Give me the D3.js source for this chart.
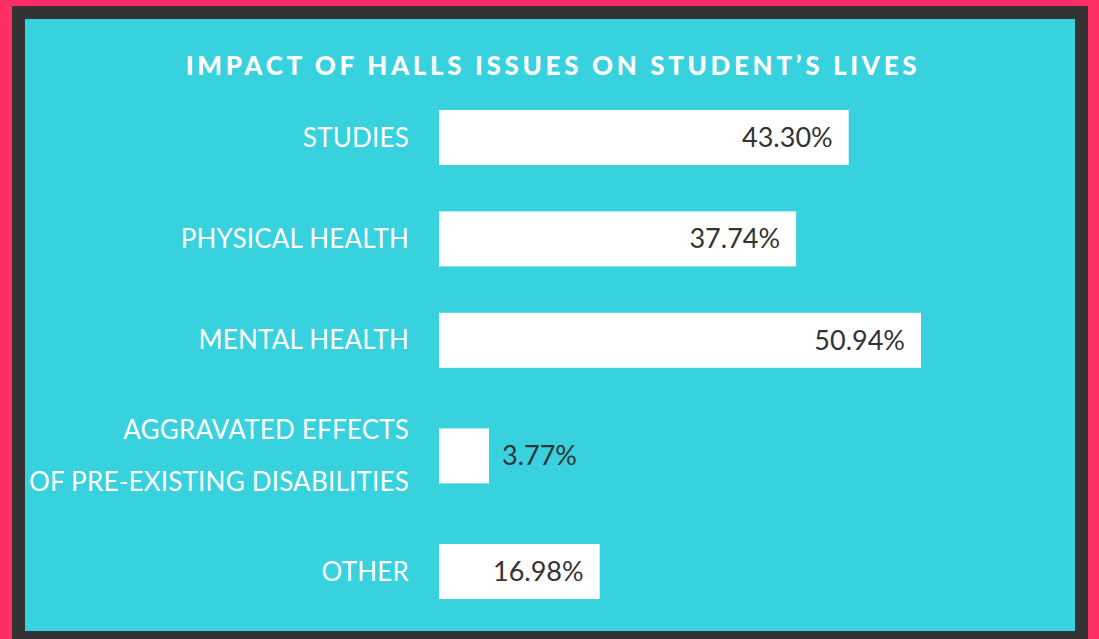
<!DOCTYPE html>
<html>
<head>
<meta charset="utf-8">
<script src="https://cdn.jsdelivr.net/npm/d3@7"></script>
<style>
  html, body { margin: 0; padding: 0; background: #ff2f66; }
  svg { display: block; }
</style>
</head>
<body>
<div id="chart"></div>
<script>
// data
var title = "IMPACT OF HALLS ISSUES ON STUDENT\u2019S LIVES";
var categories = [
  ["STUDIES"],
  ["PHYSICAL HEALTH"],
  ["MENTAL HEALTH"],
  ["AGGRAVATED EFFECTS", "OF PRE-EXISTING DISABILITIES"],
  ["OTHER"]
];
var values = [43.30, 37.74, 50.94, 3.77, 16.98];

var W = 1099, H = 639,
    pink = "#ff2f66", frame = "#333333", cyan = "#38d1de",
    barLeft = 439, barH = 55, minBar = 50;

var svg = d3.select("#chart").append("svg")
    .attr("width", W)
    .attr("height", H);

svg.append("rect").attr("width", W).attr("height", H).attr("fill", pink);
svg.append("rect").attr("x", 12).attr("y", 6).attr("width", 1076).attr("height", H - 6).attr("fill", frame);
svg.append("rect").attr("x", 25).attr("y", 19).attr("width", 1050).attr("height", 612).attr("fill", cyan);

svg.append("text")
    .attr("x", 553)
    .attr("y", 75)
    .attr("text-anchor", "middle")
    .attr("fill", "#fff")
    .style("font-family", "Lato")
    .style("font-weight", 900)
    .style("font-size", "26px")
    .style("letter-spacing", "3.65px")
    .text(title);

// rows with two lines of label take a bit more room
function weight(c) { return c.length > 1 ? 1.28 : 1; }
var slots = [], acc = 0;
categories.forEach(function (c, i) {
  if (i > 0) acc += (weight(c) + weight(categories[i - 1])) / 2;
  slots.push(acc);
});

var y = d3.scaleLinear().domain([0, slots[slots.length - 1]]).range([137.5, 571.5]);
var x = d3.scaleLinear().domain([0, 50.94]).range([0, 482]);

var rows = svg.selectAll(".row")
    .data(values)
    .enter().append("g")
    .attr("class", "row")
    .attr("transform", function (d, i) { return "translate(0," + y(slots[i]) + ")"; });

rows.append("rect")
    .attr("x", barLeft)
    .attr("y", -barH / 2)
    .attr("width", function (d) { return Math.max(x(d), minBar); })
    .attr("height", barH)
    .attr("fill", "#fff");

rows.append("text")
    .attr("x", function (d) {
      var w = Math.max(x(d), minBar);
      return d < 10 ? barLeft + w + 13 : barLeft + w - 16;
    })
    .attr("y", 9.5)
    .attr("text-anchor", function (d) { return d < 10 ? "start" : "end"; })
    .attr("fill", "#333")
    .style("font-family", "Lato")
    .style("font-size", "27px")
    .text(function (d) { return d.toFixed(2) + "%"; });

rows.append("text")
    .attr("x", 409)
    .attr("text-anchor", "end")
    .attr("fill", "#fff")
    .style("font-family", "Lato")
    .style("font-size", "26px")
    .style("letter-spacing", "0.2px")
    .selectAll("tspan")
    .data(function (d, i) { return categories[i]; })
    .enter().append("tspan")
    .attr("x", 409)
    .attr("y", function (d, j, n) { return 9 + (j - (n.length - 1) / 2) * 52; })
    .text(function (d) { return d; });
</script>
</body>
</html>
